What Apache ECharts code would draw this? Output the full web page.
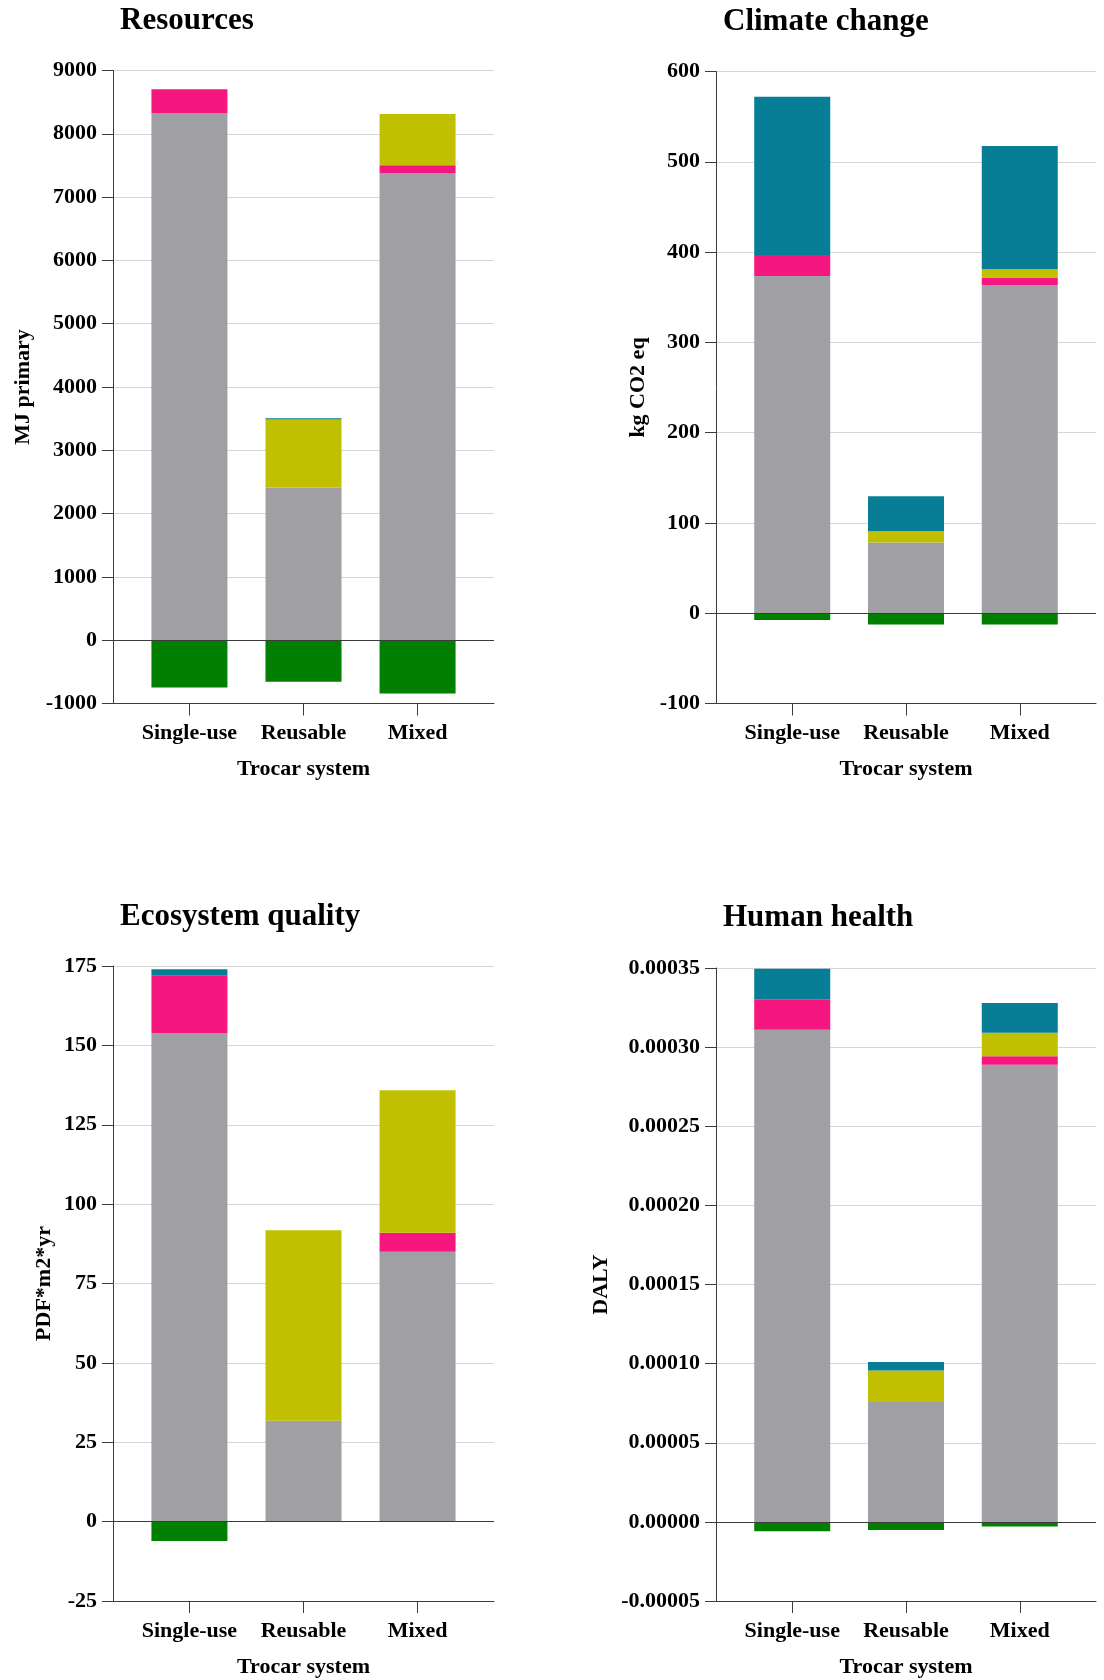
<!DOCTYPE html>
<html>
<head>
<meta charset="utf-8">
<title>Trocar system impacts</title>
<script src="https://cdn.jsdelivr.net/npm/echarts@6/dist/echarts.min.js"></script>
<style>
  html, body { margin: 0; padding: 0; background: #fff; }
  #chart { width: 1104px; height: 1680px; }
</style>
</head>
<body>
<div id="chart"></div>
<script>
// Trocar systems compared
const categories = ['Single-use', 'Reusable', 'Mixed'];
const stageNames = ['Manufacturing', 'Packaging', 'Sterilization', 'End of life', 'Avoided burdens'];

// Resources (MJ primary)
const resManufacturing = [8330, 2412, 7382];
const resPackaging     = [375, 0, 122];
const resSterilization = [0, 1074, 810];
const resEndOfLife     = [0, 21, 0];
const resAvoided       = [-747, -658, -842];
const resTicks = { min: -1000, max: 9000, interval: 1000 };

// Climate change (kg CO2 eq)
const ccManufacturing = [373.5, 78.2, 363.6];
const ccPackaging     = [23.3, 0, 8.1];
const ccSterilization = [0, 12.6, 9.3];
const ccEndOfLife     = [175.2, 38.8, 136.5];
const ccAvoided       = [-7.4, -12.6, -12.6];
const ccTicks = { min: -100, max: 600, interval: 100 };

// Ecosystem quality (PDF*m2*yr)
const eqManufacturing = [153.9, 31.8, 85.0];
const eqPackaging     = [18.0, 0, 6.0];
const eqSterilization = [0, 60.0, 44.9];
const eqEndOfLife     = [2.1, 0, 0];
const eqAvoided       = [-6.1, 0, 0];
const eqTicks = { min: -25, max: 175, interval: 25 };

// Human health (DALY)
const hhManufacturing = [3.110e-4, 7.58e-5, 2.889e-4];
const hhPackaging     = [1.92e-5, 0, 5.3e-6];
const hhSterilization = [0, 1.98e-5, 1.49e-5];
const hhEndOfLife     = [1.94e-5, 5.5e-6, 1.88e-5];
const hhAvoided       = [-5.9e-6, -5.1e-6, -3.0e-6];
const hhTicks = { min: -0.00005, max: 0.00035, interval: 0.00005 };

const stageColors = ['#a09fa4', '#f5177f', '#c0c000', '#077e96', '#007f00'];
const FONT = '"Liberation Serif", "Times New Roman", serif';
const AXIS_DARK = '#3c3c3c';

const panels = [
  { title: 'Resources', unit: 'MJ primary', ticks: resTicks,
    stages: [resManufacturing, resPackaging, resSterilization, resEndOfLife, resAvoided],
    grid: { left: 113, right: 610, top: 70.5, bottom: 976.5 },
    titlePos: { left: 120, top: 5 }, nameGap: 79, fmt: v => String(v) },
  { title: 'Climate change', unit: 'kg CO2 eq', ticks: ccTicks,
    stages: [ccManufacturing, ccPackaging, ccSterilization, ccEndOfLife, ccAvoided],
    grid: { left: 716, right: 8, top: 71.5, bottom: 976.5 },
    titlePos: { left: 723, top: 6 }, nameGap: 67, fmt: v => String(v) },
  { title: 'Ecosystem quality', unit: 'PDF*m2*yr', ticks: eqTicks,
    stages: [eqManufacturing, eqPackaging, eqSterilization, eqEndOfLife, eqAvoided],
    grid: { left: 113, right: 610, top: 966, bottom: 79 },
    titlePos: { left: 120, top: 901 }, nameGap: 58, fmt: v => String(v) },
  { title: 'Human health', unit: 'DALY', ticks: hhTicks,
    stages: [hhManufacturing, hhPackaging, hhSterilization, hhEndOfLife, hhAvoided],
    grid: { left: 716, right: 8, top: 968, bottom: 79 },
    titlePos: { left: 723, top: 902 }, nameGap: 104,
    fmt: v => (Math.abs(v) < 1e-12 ? 0 : v).toFixed(5) }
];

const textBold = (size) => ({ fontFamily: FONT, fontWeight: 'bold', fontSize: size, color: '#000' });

const option = {
  animation: false,
  backgroundColor: '#fff',
  title: [], grid: [], xAxis: [], yAxis: [], series: []
};

panels.forEach((p, k) => {
  option.title.push({ text: p.title, left: p.titlePos.left, top: p.titlePos.top,
    padding: 0, textStyle: textBold(31) });
  option.grid.push(Object.assign({ containLabel: false }, p.grid));
  // Category positions 0..2 on a numeric axis, padded so the outer bars sit
  // away from the frame edges.
  option.xAxis.push({
    type: 'value', gridIndex: k, min: -0.67, max: 2.67,
    name: 'Trocar system', nameLocation: 'middle', nameGap: 55,
    nameTextStyle: textBold(22),
    axisLine: { show: true, onZero: false, lineStyle: { color: AXIS_DARK, width: 1 } },
    axisTick: { show: true, length: 12, customValues: [0, 1, 2], lineStyle: { color: AXIS_DARK } },
    axisLabel: Object.assign({ customValues: [0, 1, 2], margin: 19,
      formatter: v => categories[Math.round(v)] }, textBold(22)),
    splitLine: { show: false }
  });
  option.yAxis.push({
    type: 'value', gridIndex: k,
    min: p.ticks.min, max: p.ticks.max, interval: p.ticks.interval,
    name: p.unit, nameLocation: 'middle', nameGap: p.nameGap,
    nameTextStyle: textBold(22),
    axisLine: { show: true, onZero: false, lineStyle: { color: AXIS_DARK, width: 1 } },
    axisTick: { show: true, length: 11, lineStyle: { color: AXIS_DARK } },
    axisLabel: Object.assign({ margin: 16, formatter: p.fmt }, textBold(22)),
    splitLine: { show: true, lineStyle: { color: '#d6d6d6', width: 1 } }
  });
  p.stages.forEach((vals, s) => {
    const series = {
      name: stageNames[s], type: 'bar', stack: 'total' + k,
      xAxisIndex: k, yAxisIndex: k, barWidth: 76,
      itemStyle: { color: stageColors[s] },
      // value first so the stack accumulates along the value dimension
      dimensions: ['value', 'position'],
      encode: { x: 'position', y: 'value' },
      data: categories.map((c, i) => [vals[i], i])
    };
    if (s === p.stages.length - 1) {
      series.markLine = {
        silent: true, symbol: ['none', 'none'], label: { show: false },
        lineStyle: { color: AXIS_DARK, width: 1, type: 'solid' },
        data: [{ yAxis: 0 }]
      };
    }
    option.series.push(series);
  });
});

const chart = echarts.init(document.getElementById('chart'), null, { renderer: 'canvas' });
chart.setOption(option);
</script>
</body>
</html>
